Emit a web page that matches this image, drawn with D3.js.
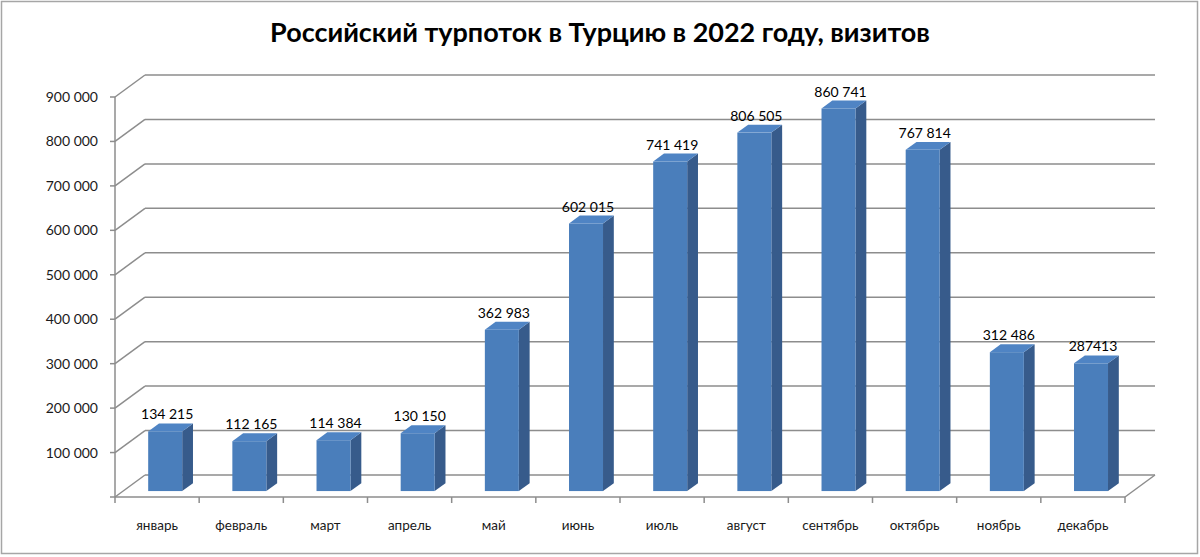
<!DOCTYPE html>
<html><head><meta charset="utf-8">
<script src="https://cdn.jsdelivr.net/npm/d3@7/dist/d3.min.js"></script>
<style>body{margin:0;background:#fff;}svg{display:block;}</style>
</head><body>
<svg id="c" width="1200" height="557"></svg>
<script>
const title = "Российский турпоток в Турцию в 2022 году, визитов";
const months = ["январь","февраль","март","апрель","май","июнь","июль","август","сентябрь","октябрь","ноябрь","декабрь"];
const visits = [134215,112165,114384,130150,362983,602015,741419,806505,860741,767814,312486,287413];
const valueLabels = ["134 215","112 165","114 384","130 150","362 983","602 015","741 419","806 505","860 741","767 814","312 486","287413"];
const yTicks = [100000,200000,300000,400000,500000,600000,700000,800000,900000];
const yTickLabels = ["100 000","200 000","300 000","400 000","500 000","600 000","700 000","800 000","900 000"];

const svg = d3.select("#c");
const FONT = "Lato, 'Open Sans', sans-serif";
const DX = 30, DY = -22;          // depth offset of the back wall
const F0 = 0.27, F1 = 0.63;       // bar depth position (fraction)
const barW = 34;
const grid = "#8d8d8d";

svg.append("rect").attr("x",1.5).attr("y",1.5).attr("width",1196).attr("height",552)
  .attr("fill","#fff").attr("stroke","#a6a6a6").attr("stroke-width",1.5);

const t = svg.append("text").attr("x",600).attr("y",42).attr("text-anchor","middle")
  .attr("font-family",FONT).attr("font-weight","bold").attr("font-size",24).attr("fill","#000")
  .text(title);
const tw = t.node().getComputedTextLength();
t.attr("font-size", 24*660/tw);

const x = d3.scaleBand().domain(months).range([115,1125]);
const y = d3.scaleLinear().domain([0,900000]).range([497,97]);

// back wall gridlines + left side wall diagonals
const g = svg.append("g").attr("stroke",grid).attr("stroke-width",1.5).attr("fill","none");
[0, ...yTicks].forEach(v => {
  g.append("line").attr("x1",115+DX).attr("x2",1125+DX).attr("y1",y(v)+DY).attr("y2",y(v)+DY);
  g.append("line").attr("x1",115).attr("x2",115+DX).attr("y1",y(v)).attr("y2",y(v)+DY);
  g.append("line").attr("x1",110).attr("x2",115).attr("y1",y(v)).attr("y2",y(v));
});
// left axis
g.append("line").attr("x1",115).attr("x2",115).attr("y1",y(0)).attr("y2",y(900000));
// floor front edge and right diagonal
g.append("line").attr("x1",115).attr("x2",1125).attr("y1",y(0)).attr("y2",y(0));
g.append("line").attr("x1",1125).attr("x2",1125+DX).attr("y1",y(0)).attr("y2",y(0)+DY);
// category ticks
const bounds = months.map(m => x(m)).concat([1125]);
bounds.forEach(bx => g.append("line").attr("x1",bx).attr("x2",bx).attr("y1",y(0)).attr("y2",y(0)+6));

// y labels
svg.append("g").selectAll("text").data(yTicks).join("text")
  .attr("x",98).attr("y",(d)=>y(d)+5).attr("text-anchor","end")
  .attr("font-family",FONT).attr("font-size",14).attr("fill","#1a1a1a")
  .text((d,i)=>yTickLabels[i]);

// x labels
svg.append("g").selectAll("text").data(months).join("text")
  .attr("x",d=>x(d)+x.bandwidth()/2).attr("y",530).attr("text-anchor","middle")
  .attr("font-family",FONT).attr("font-size",13.5).attr("fill","#1a1a1a")
  .text(d=>d);

// bars
const bars = svg.append("g");
months.forEach((m,i) => {
  const v = visits[i];
  const x0 = x(m) + (x.bandwidth()-barW)/2 + F0*DX;
  const x1 = x0 + barW;
  const yb = y(0) + F0*DY;
  const yt = y(v) + F0*DY;
  const ddx = (F1-F0)*DX, ddy = (F1-F0)*DY;
  // side
  bars.append("path").attr("d",`M${x1},${yb}L${x1+ddx},${yb+ddy}L${x1+ddx},${yt+ddy}L${x1},${yt}Z`)
    .attr("fill","#375b8b");
  // front
  bars.append("rect").attr("x",x0).attr("y",yt).attr("width",barW).attr("height",yb-yt).attr("fill","#4a7ebb");
  // top
  bars.append("path").attr("d",`M${x0},${yt}L${x1},${yt}L${x1+ddx},${yt+ddy}L${x0+ddx},${yt+ddy}Z`)
    .attr("fill","#4f84c4");
  bars.append("text").attr("x",(x0+x1)/2+2).attr("y",yt+ddy-4).attr("text-anchor","middle")
    .attr("font-family",FONT).attr("font-size",14).attr("fill","#000").text(valueLabels[i]);
});
</script>
</body></html>
